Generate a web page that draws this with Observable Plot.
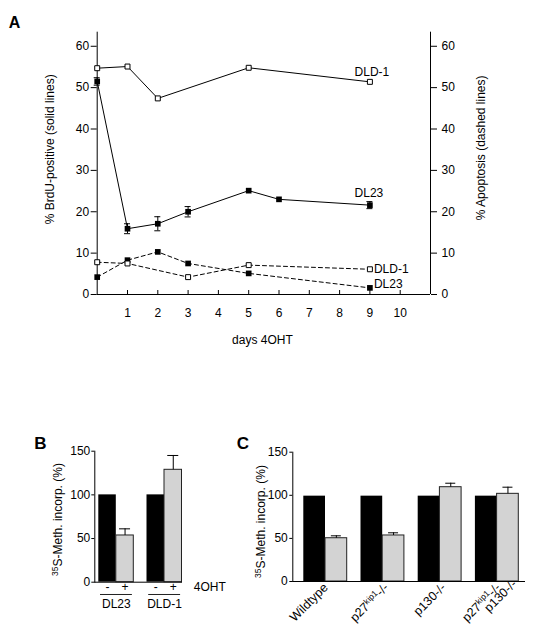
<!DOCTYPE html>
<html><head><meta charset="utf-8">
<script src="https://cdn.jsdelivr.net/npm/d3@7"></script>
<script src="https://cdn.jsdelivr.net/npm/@observablehq/plot@0.6"></script>
<style>
body{margin:0;background:#fff;}
#fig{position:relative;width:534px;height:644px;background:#fff;overflow:hidden;}
#fig svg{position:absolute;}
</style></head><body><div id="fig"></div>
<script>
// ---------- Panel A data ----------
const aDayTicks = [1,2,3,4,5,6,7,8,9,10];
const aYTicks = [0,10,20,30,40,50,60];
const brduDLD1Days = [0,1,2,5,9];
const brduDLD1 = [54.7,55.1,47.4,54.8,51.4];
const brduDL23Days = [0,1,2,3,5,6,9];
const brduDL23 = [51.5,15.9,17.1,20.0,25.1,23.0,21.6];
const brduDL23Err = [0.9,1.2,1.7,1.25,0,0,0.85];
const apoDLD1Days = [0,1,3,5,9];
const apoDLD1 = [7.8,7.5,4.2,7.1,6.1];
const apoDL23Days = [0,1,2,3,5,9];
const apoDL23 = [4.2,8.3,10.3,7.5,5.1,1.6];
const aXLabel = "days 4OHT";
const aYLabelLeft = "% BrdU-positive (solid lines)";
const aYLabelRight = "% Apoptosis (dashed lines)";

// ---------- Panel B data ----------
const bGroups = ["DL23","DLD-1"];
const bSigns = ["-","+"];
const bControl = [100,100];
const bTreated = [53.5,128.7];
const bTreatedErr = [7.6,16.4];
const bTicks = [0,50,100,150];
const bTreatLabel = "4OHT";

// ---------- Panel C data ----------
const cGroups = ["Wildtype","p27^kip1^-/-","p130-/-","p27^kip1^-/-\np130-/-"];
const cControl = [99,99,99,99];
const cTreated = [50.2,53.4,109.4,101.7];
const cTreatedErr = [2.8,3.1,4.6,7.7];
const cTicks = [0,50,100,150];

const methLabel = "^35^S-Meth. incorp. (%)";
const panelLetters = ["A","B","C"];

const style = {fontFamily:"'Liberation Sans', Arial, Helvetica, sans-serif", fontSize:"12px", color:"black", background:"transparent", overflow:"visible"};
const mid = {textAnchor:"middle", lineAnchor:"middle"};

const rows = (days, vals, series, errs) => days.map((d,i)=>({day:d, value:vals[i], series, err: errs ? errs[i] : 0}));
const sDLD1 = rows(brduDLD1Days, brduDLD1, "DLD-1");
const sDL23 = rows(brduDL23Days, brduDL23, "DL23", brduDL23Err);
const dDLD1 = rows(apoDLD1Days, apoDLD1, "DLD-1");
const dDL23 = rows(apoDL23Days, apoDL23, "DL23");
const last = a => [a[a.length-1]];
const errRows = sDL23.filter(d=>d.err>0);
const dash = "4,3";

const A = Plot.plot({
  width:534, height:360, marginLeft:96.7, marginRight:104, marginTop:31.7, marginBottom:66,
  style,
  x:{domain:[0,11]},
  y:{domain:[0,63.4]},
  marks:[
    Plot.ruleX([0]), Plot.ruleX([11]), Plot.ruleY([0]),
    Plot.axisY({anchor:"left", ticks:aYTicks, tickSize:6, tickPadding:2, label:null}),
    Plot.axisY({anchor:"right", ticks:aYTicks, tickSize:6, tickPadding:5, label:null}),
    Plot.ruleX(aDayTicks, {x:d=>d, y1:0, y2:0, insetTop:-4}),
    Plot.axisX({ticks:aDayTicks, tickSize:0, tickPadding:13.5, label:null}),
    Plot.line(sDLD1, {x:"day", y:"value", stroke:"black", strokeWidth:1}),
    Plot.line(sDL23, {x:"day", y:"value", stroke:"black", strokeWidth:1}),
    Plot.line(dDLD1, {x:"day", y:"value", stroke:"black", strokeWidth:1, strokeDasharray:dash}),
    Plot.line(dDL23, {x:"day", y:"value", stroke:"black", strokeWidth:1, strokeDasharray:dash}),
    Plot.ruleX(errRows, {x:"day", y1:d=>d.value-d.err, y2:d=>d.value+d.err}),
    Plot.ruleY(errRows, {y:d=>d.value+d.err, x1:"day", x2:"day", insetLeft:-3, insetRight:-3}),
    Plot.ruleY(errRows, {y:d=>d.value-d.err, x1:"day", x2:"day", insetLeft:-3, insetRight:-3}),
    Plot.dot(sDL23, {x:"day", y:"value", symbol:"square", r:3.2, fill:"black"}),
    Plot.dot(dDL23, {x:"day", y:"value", symbol:"square", r:3.2, fill:"black"}),
    Plot.dot(sDLD1, {x:"day", y:"value", symbol:"square", r:2.8, fill:"white", stroke:"black", strokeWidth:1}),
    Plot.dot(dDLD1, {x:"day", y:"value", symbol:"square", r:2.8, fill:"white", stroke:"black", strokeWidth:1}),
    Plot.text(last(sDLD1), {x:"day", y:"value", text:"series", dx:2, dy:-10}),
    Plot.text(last(sDL23), {x:"day", y:"value", text:"series", dx:-1, dy:-12}),
    Plot.text(last(dDLD1), {x:"day", y:"value", text:"series", textAnchor:"start", dx:4, dy:0}),
    Plot.text(last(dDL23), {x:"day", y:"value", text:"series", textAnchor:"start", dx:4, dy:-4}),
    Plot.text([aYLabelLeft], {text:d=>d, frameAnchor:"left", rotate:-90, ...mid, dx:-47.4, dy:-14}),
    Plot.text([aYLabelRight], {text:d=>d, frameAnchor:"right", rotate:-90, ...mid, dx:51, dy:-15.5}),
    Plot.text([aXLabel], {text:d=>d, frameAnchor:"bottom", ...mid, dx:-1.4, dy:46}),
    Plot.text([panelLetters[0]], {text:d=>d, frameAnchor:"top-left", ...mid, dx:-82.7, dy:-9, fontWeight:"bold", fontSize:16})
  ]
});

function barRows(groups, ctrl, trt, err, signs) {
  return groups.flatMap((g,i)=>[
    {key:`${g}|-`, group:g, sign:signs[0], value:ctrl[i], err:0},
    {key:`${g}|+`, group:g, sign:signs[1], value:trt[i], err:err[i]}
  ]);
}
const bBars = barRows(bGroups, bControl, bTreated, bTreatedErr, bSigns);
const bCtrl = bBars.filter(d=>d.sign===bSigns[0]);
const bTrt = bBars.filter(d=>d.sign===bSigns[1]);

const B = Plot.plot({
  width:260, height:200, marginLeft:94.3, marginRight:78, marginTop:20.7, marginBottom:48.3,
  style,
  x:{type:"band", domain:bBars.map(d=>d.key), range:[91.7,188.1], paddingInner:0, paddingOuter:0, round:false, axis:null},
  y:{domain:[0,150], axis:null},
  marks:[
    Plot.barY(bCtrl, {x:"key", y:"value", fill:"black", insetLeft:6.6, insetRight:0}),
    Plot.barY(bTrt, {x:"key", y:"value", fill:"#d3d3d3", stroke:"#222", strokeWidth:1, insetLeft:0, insetRight:6.6}),
    Plot.ruleX(bTrt, {x:"key", y1:"value", y2:d=>d.value+d.err, dx:-3.3}),
    Plot.tickY(bTrt, {x:"key", y:d=>d.value+d.err, insetLeft:3.25, insetRight:9.85}),
    Plot.ruleY([0]),
    Plot.frame({anchor:"left"}),
    Plot.axisY({ticks:bTicks, tickSize:3, tickPadding:1.5, label:null}),
    Plot.text(bCtrl, {x:"key", y:0, text:"sign", ...mid, dx:3.3, dy:5}),
    Plot.text(bTrt, {x:"key", y:0, text:"sign", ...mid, dx:-3.3, dy:5}),
    Plot.ruleY(bCtrl.map((d,i)=>({a:d.key, b:bTrt[i].key})), {x1:"a", x2:"b", y:0, dy:12.3, insetLeft:8.3, insetRight:8, stroke:"#222"}),
    Plot.text(bTrt, {x:"key", y:0, text:"group", ...mid, dx:-12, dy:21.6}),
    Plot.text([bTreatLabel], {text:d=>d, frameAnchor:"bottom-right", textAnchor:"start", lineAnchor:"middle", dx:11.3, dy:5}),
    Plot.text([methLabel], {text:d=>d, frameAnchor:"left", rotate:-90, ...mid, dx:-36.3, dy:2.8}),
    Plot.text([panelLetters[1]], {text:d=>d, frameAnchor:"top-left", ...mid, dx:-54.3, dy:-7.4, fontWeight:"bold", fontSize:17})
  ]
});

const cBars = barRows(cGroups, cControl, cTreated, cTreatedErr, bSigns);
const cCtrl = cBars.filter(d=>d.sign===bSigns[0]);
const cTrt = cBars.filter(d=>d.sign===bSigns[1]);

const C = Plot.plot({
  width:304, height:214, marginLeft:62.3, marginRight:9, marginTop:21.7, marginBottom:63,
  style,
  x:{type:"band", domain:cBars.map(d=>d.key), range:[66.4,295.2], paddingInner:0, paddingOuter:0, round:false, axis:null},
  y:{domain:[0,150], axis:null},
  marks:[
    Plot.barY(cCtrl, {x:"key", y:"value", fill:"black", insetLeft:6.9, insetRight:0}),
    Plot.barY(cTrt, {x:"key", y:"value", fill:"#d3d3d3", stroke:"#222", strokeWidth:1, insetLeft:0, insetRight:6.9}),
    Plot.ruleX(cTrt, {x:"key", y1:"value", y2:d=>d.value+d.err, dx:-3.45}),
    Plot.tickY(cTrt, {x:"key", y:d=>d.value+d.err, insetLeft:5.85, insetRight:12.75}),
    Plot.ruleY([0]),
    Plot.frame({anchor:"left"}),
    Plot.axisY({ticks:cTicks, tickSize:3, tickPadding:2, label:null}),
    Plot.text(cTrt.slice(0,1), {x:"key", y:0, text:"group", rotate:-45, textAnchor:"end", lineAnchor:"middle", dx:-14, dy:4, fontSize:12.5}),
    Plot.text(cTrt.slice(1,3), {x:"key", y:0, text:"group", rotate:-45, textAnchor:"end", lineAnchor:"middle", dx:-10.5, dy:4, fontSize:12.5}),
    Plot.text(cTrt.slice(3), {x:"key", y:0, text:"group", rotate:-45, textAnchor:"end", lineAnchor:"middle", dx:-9, dy:8, fontSize:12.5, lineHeight:0.7}),
    Plot.text([methLabel], {text:d=>d, frameAnchor:"left", rotate:-90, ...mid, dx:-31.3, dy:4.7}),
    Plot.text([panelLetters[2]], {text:d=>d, frameAnchor:"top-left", ...mid, dx:-49.8, dy:-8.7, fontWeight:"bold", fontSize:17})
  ]
});

// shift second line of multi-line label along text direction
C.querySelectorAll("text").forEach(t=>{
  const lines = t.querySelectorAll(":scope > tspan");
  if (lines.length === 2) lines[1].setAttribute("x", "14");
});

// superscripts marked with ^...^
function supify(svg) {
  svg.querySelectorAll("text, tspan").forEach(el=>{
    for (const node of Array.from(el.childNodes)) {
      if (node.nodeType !== 3 || !node.nodeValue.includes("^")) continue;
      const parts = node.nodeValue.split("^");
      const frag = document.createDocumentFragment();
      let shifted = false;
      parts.forEach((p,i)=>{
        if (i % 2 === 1) {
          const ts = document.createElementNS("http://www.w3.org/2000/svg","tspan");
          ts.setAttribute("dy","-4"); ts.setAttribute("font-size","8.5");
          ts.textContent = p; frag.appendChild(ts); shifted = true;
        } else if (p) {
          if (shifted) {
            const ts = document.createElementNS("http://www.w3.org/2000/svg","tspan");
            ts.setAttribute("dy","4"); ts.textContent = p; frag.appendChild(ts); shifted = false;
          } else frag.appendChild(document.createTextNode(p));
        }
      });
      el.replaceChild(frag, node);
    }
  });
}
[A,B,C].forEach(supify);

const fig = document.getElementById("fig");
A.style.left = "0px"; A.style.top = "0px";
B.style.left = "0px"; B.style.top = "430px";
C.style.left = "230px"; C.style.top = "430px";
fig.append(A, B, C);
</script></body></html>
